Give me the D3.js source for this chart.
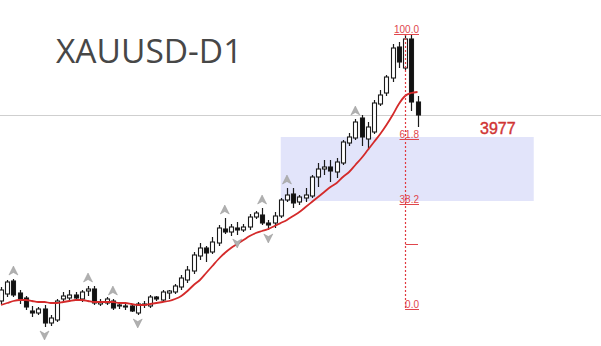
<!DOCTYPE html>
<html>
<head>
<meta charset="utf-8">
<script src="https://cdn.jsdelivr.net/npm/d3@7"></script>
<style>
  html, body { margin: 0; padding: 0; background: #fff; overflow: hidden; }
</style>
</head>
<body>
<svg id="chart"></svg>
<script>
// daily candles, oldest first
let opens  = [3296,3324,3376,3328,3308,3256,3248,3264,3208,3220, 3304,3308,3320,3304,3336,3344,3284,3288,3296,3280,
              3276,3276,3248,3280,3276,3312,3300,3328,3332,3352, 3380,3416,3476,3508,3492,3528,3584,3572,3588,3580,
              3592,3632,3640,3608,3608,3636,3700,3724,3692,3708, 3716,3792,3824,3832,3812,3848,3928,3948,4028,3944,
              3972,4084,4128,4188,4312,4228,4344,4092];
let highs  = [3352,3380,3384,3340,3316,3276,3272,3280,3240,3304, 3332,3340,3332,3340,3356,3356,3304,3312,3304,3292,
              3288,3284,3292,3296,3320,3316,3340,3340,3364,3400, 3436,3492,3528,3516,3552,3600,3628,3604,3612,3604,
              3644,3656,3668,3620,3652,3708,3748,3748,3720,3748, 3800,3848,3860,3860,3868,3940,3968,4024,4040,4012,
              4100,4140,4200,4324,4332,4364,4360,4116];
let lows   = [3284,3312,3312,3284,3260,3232,3240,3192,3196,3212, 3292,3292,3296,3292,3316,3280,3276,3280,3260,3264,
              3260,3252,3240,3268,3268,3296,3292,3304,3324,3340, 3368,3404,3460,3452,3484,3516,3564,3556,3560,3572,
              3580,3624,3600,3580,3588,3628,3692,3668,3680,3692, 3708,3752,3800,3772,3788,3840,3916,3940,3916,3900,
              3964,4076,4116,4172,4228,4220,4056,3992];
let closes = [3340,3372,3320,3304,3272,3248,3264,3208,3228,3296, 3316,3320,3308,3332,3344,3288,3292,3304,3268,3276,
              3272,3256,3284,3284,3312,3304,3332,3336,3356,3388, 3420,3480,3508,3488,3532,3588,3572,3592,3580,3592,
              3632,3648,3608,3600,3636,3700,3720,3688,3712,3720, 3792,3824,3832,3816,3852,3932,3952,4012,3952,3992,
              4088,4120,4192,4308,4252,4344,4092,4040];
// red moving average
let maValues = [3280,3288,3296,3300,3300,3296,3292,3292,3288,3288, 3292,3296,3300,3300,3296,3292,3292,3292,3292,3288,
                3288,3284,3280,3280,3284,3288,3292,3296,3304,3316, 3336,3360,3380,3408,3436,3464,3488,3508,3524,3540,
                3556,3568,3576,3584,3596,3608,3620,3636,3652,3672, 3692,3712,3732,3752,3768,3792,3812,3840,3868,3900,
                3932,3964,4000,4040,4084,4116,4128,4132];
// fractal arrows (candle index)
let upFractals = [2, 14, 18, 36, 42, 46, 57];
let downFractals = [7, 22, 38, 43];
// fibonacci retracement
let fibLow = 3264, fibHigh = 4364, fibIndex = 65;
let fibLevels = [0, 0.236, 0.382, 0.618, 1];
let fibLabels = ["0.0", "", "38.2", "61.8", "100.0"];
// zone rectangle
let zoneTop = 3952, zoneBottom = 3696, zoneFrom = 45, zoneTo = 85.7;
let lastPrice = 4040;
let title = "XAUUSD-D1";
let priceNote = "3977";

let width = 601, height = 346;
let svg = d3.select("#chart").attr("width", width).attr("height", height);

let x = d3.scaleLinear().domain([0, opens.length - 1]).range([1, 417.5]);
let y = d3.scaleLinear().domain([fibLow, fibHigh]).range([309, 34]);

// zone
svg.append("rect")
  .attr("x", x(zoneFrom)).attr("y", y(zoneTop))
  .attr("width", x(zoneTo) - x(zoneFrom))
  .attr("height", y(zoneBottom) - y(zoneTop))
  .attr("fill", "#e2e4fa");

// current price line
svg.append("line")
  .attr("x1", 0).attr("x2", width)
  .attr("y1", Math.round(y(lastPrice)) + 0.5).attr("y2", Math.round(y(lastPrice)) + 0.5)
  .attr("stroke", "#cfcfcf").attr("stroke-width", 1);

// title
svg.append("text")
  .attr("x", 56).attr("y", 63)
  .attr("font-family", "'Open Sans', 'Noto Sans', sans-serif")
  .attr("font-size", 33.5)
  .attr("fill", "#474747")
  .text(title);

// candles
let candles = d3.range(opens.length).map(i => ({i, o: opens[i], h: highs[i], l: lows[i], c: closes[i]}));
let g = svg.append("g");
let cg = g.selectAll("g.candle").data(candles).enter().append("g");
cg.append("line")
  .attr("x1", d => Math.round(x(d.i)) + 0.5).attr("x2", d => Math.round(x(d.i)) + 0.5)
  .attr("y1", d => y(d.h)).attr("y2", d => y(d.l))
  .attr("stroke", "#1a1a1a").attr("stroke-width", 1.2);
cg.append("rect")
  .attr("x", d => Math.round(x(d.i)) - 1.5)
  .attr("y", d => y(Math.max(d.o, d.c)))
  .attr("width", 4)
  .attr("height", d => Math.max(1, Math.abs(y(d.o) - y(d.c))))
  .attr("fill", d => d.c >= d.o ? "#fff" : "#111")
  .attr("stroke", "#1a1a1a").attr("stroke-width", 1.1);

// moving average
svg.append("path")
  .datum(maValues)
  .attr("d", d3.line().x((d, i) => x(i)).y(d => y(d)).curve(d3.curveMonotoneX))
  .attr("fill", "none").attr("stroke", "#d42a2a").attr("stroke-width", 1.8);

// fractals
function arrow(up) {
  return up ? "M0,-5 L4.5,4 L0,1.5 L-4.5,4 Z" : "M0,5 L4.5,-4 L0,-1.5 L-4.5,-4 Z";
}
svg.selectAll("path.up").data(upFractals).enter().append("path")
  .attr("d", arrow(true))
  .attr("transform", i => `translate(${x(i)},${y(highs[i]) - 8})`)
  .attr("fill", "#b0b0b0").attr("stroke", "#999").attr("stroke-width", 0.5);
svg.selectAll("path.down").data(downFractals).enter().append("path")
  .attr("d", arrow(false))
  .attr("transform", i => `translate(${x(i)},${y(lows[i]) + 8})`)
  .attr("fill", "#b0b0b0").attr("stroke", "#999").attr("stroke-width", 0.5);

// fibonacci
let fx = Math.round(x(fibIndex)) + 0.5;
let fibColor = "#e0464c";
svg.append("line")
  .attr("x1", fx).attr("x2", fx)
  .attr("y1", y(fibHigh)).attr("y2", y(fibLow))
  .attr("stroke", "#e03a40").attr("stroke-width", 1.2)
  .attr("stroke-dasharray", "2,2");
fibLevels.forEach((lv, k) => {
  let py = Math.round(y(fibLow + lv * (fibHigh - fibLow))) + 0.5;
  let label = fibLabels[k];
  if (label) {
    let t = svg.append("text")
      .attr("x", 419).attr("y", py - 2)
      .attr("text-anchor", "end")
      .attr("font-family", "'Liberation Sans', Arial, sans-serif")
      .attr("font-size", 10)
      .attr("fill", fibColor)
      .text(label);
    let w = t.node().getComputedTextLength();
    svg.append("line")
      .attr("x1", 419 - w).attr("x2", 419)
      .attr("y1", py).attr("y2", py)
      .attr("stroke", fibColor).attr("stroke-width", 1);
  } else {
    svg.append("line")
      .attr("x1", fx).attr("x2", 418)
      .attr("y1", py).attr("y2", py)
      .attr("stroke", fibColor).attr("stroke-width", 1);
  }
});

// price note
svg.append("text")
  .attr("x", 480).attr("y", 134)
  .attr("font-family", "'Liberation Sans', Arial, sans-serif")
  .attr("font-size", 16)
  .attr("fill", "#d03434")
  .attr("stroke", "#d03434").attr("stroke-width", 0.4)
  .text(priceNote);
</script>
</body>
</html>
